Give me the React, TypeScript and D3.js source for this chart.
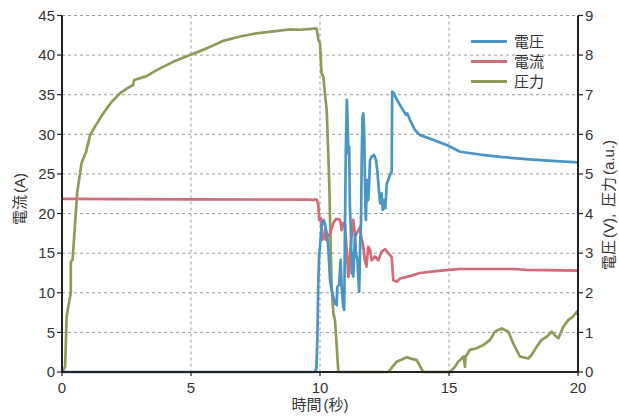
import React from "react";
import * as d3 from "d3";

// ---- data (time in s, current in A on left axis; voltage in V and pressure in a.u. on right axis)
const xTicks = [0, 5, 10, 15, 20];
const leftTicks = [0, 5, 10, 15, 20, 25, 30, 35, 40, 45];
const rightTicks = [0, 1, 2, 3, 4, 5, 6, 7, 8, 9];
const seriesNames = ["電圧", "電流", "圧力"];

const voltage: [number, number][] = [
  [0, 0], [9.81, 0], [9.86, 0.1], [9.9, 0.89], [9.93, 2.15], [9.97, 3.0], [10.0, 3.16], [10.06, 3.67],
  [10.13, 3.84], [10.19, 3.75], [10.26, 3.5], [10.32, 3.16], [10.39, 2.32], [10.45, 2.07], [10.52, 1.9],
  [10.58, 1.73], [10.65, 1.69], [10.67, 2.15], [10.74, 2.2], [10.8, 2.83], [10.84, 2.15], [10.9, 1.65],
  [10.94, 1.57], [10.97, 3.84], [11.0, 5.52], [11.04, 6.87], [11.07, 6.36], [11.1, 5.52], [11.13, 5.69],
  [11.16, 4.17], [11.19, 3.67], [11.23, 2.49], [11.26, 3.0], [11.29, 2.41], [11.36, 3.5], [11.39, 3.0],
  [11.45, 2.83], [11.49, 2.32], [11.52, 2.03], [11.55, 3.0], [11.59, 3.84], [11.62, 5.52], [11.65, 6.45],
  [11.68, 6.53], [11.71, 6.1], [11.73, 5.35], [11.76, 4.17], [11.78, 3.84], [11.81, 4.68], [11.84, 4.85],
  [11.87, 4.34], [11.9, 4.68], [11.94, 5.35], [12.0, 5.44], [12.09, 5.48], [12.17, 5.35], [12.22, 5.1],
  [12.27, 4.68], [12.33, 4.26], [12.39, 4.51], [12.43, 4.09], [12.48, 4.34], [12.53, 4.13], [12.59, 4.76],
  [12.65, 4.85], [12.71, 4.97], [12.78, 5.06], [12.79, 6.36], [12.8, 7.08], [12.87, 7.03], [12.95, 6.91],
  [13.03, 6.82], [13.17, 6.66], [13.26, 6.57], [13.33, 6.49], [13.38, 6.53], [13.49, 6.36], [13.68, 6.11],
  [13.88, 5.98], [14.39, 5.86], [14.91, 5.73], [15.43, 5.56], [16.2, 5.49], [17, 5.43], [18.1, 5.37],
  [19, 5.33], [20, 5.29],
];

const current: [number, number][] = [
  [0, 21.85], [5, 21.8], [9.6, 21.75], [9.75, 21.7], [9.8, 21.8], [9.87, 21.75], [9.93, 21.2], [9.97, 19.2],
  [10.03, 19.4], [10.06, 17.5], [10.1, 16.7], [10.16, 17.0], [10.19, 17.9], [10.23, 16.7], [10.39, 17.5],
  [10.52, 18.8], [10.62, 19.3], [10.71, 19.3], [10.78, 19.2], [10.84, 17.9], [10.9, 18.8], [10.97, 18.6],
  [11.04, 15.0], [11.1, 12.0], [11.16, 14.6], [11.23, 17.5], [11.29, 19.2], [11.36, 17.1], [11.42, 17.5],
  [11.55, 18.3], [11.6, 17.1], [11.67, 16.0], [11.74, 14.1], [11.8, 13.3], [11.87, 15.8], [11.94, 15.4],
  [12.0, 14.1], [12.13, 14.6], [12.26, 14.1], [12.39, 15.2], [12.52, 15.5], [12.65, 15.0], [12.78, 14.5],
  [12.84, 11.6], [12.97, 11.4], [13.1, 11.8], [13.49, 12.1], [13.88, 12.5], [14.39, 12.7], [15.0, 12.9],
  [15.43, 13.0], [16.5, 13.0], [17.5, 13.0], [18.0, 12.9], [20, 12.8],
];

const pressure: [number, number][] = [
  [0, 0], [0.12, 0.13], [0.18, 1.4], [0.24, 1.62], [0.34, 2.0], [0.34, 2.78], [0.41, 2.83], [0.59, 4.54],
  [0.76, 5.28], [0.93, 5.55], [1.09, 5.98], [1.3, 6.22], [1.6, 6.53], [1.9, 6.8], [2.25, 7.04], [2.5, 7.15],
  [2.76, 7.25], [2.8, 7.37], [3.28, 7.47], [3.67, 7.62], [4.31, 7.83], [4.96, 8.0], [5.61, 8.17],
  [6.25, 8.36], [6.9, 8.47], [7.55, 8.55], [8.19, 8.6], [8.84, 8.65], [9.22, 8.64], [9.8, 8.67],
  [9.87, 8.67], [9.94, 8.38], [10.0, 8.3], [10.06, 7.54], [10.13, 7.45], [10.19, 7.04], [10.26, 6.61],
  [10.32, 5.52], [10.36, 4.76], [10.39, 3.84], [10.45, 2.15], [10.52, 1.48], [10.58, 1.31], [10.65, 0.64],
  [10.71, 0], [12.65, 0], [12.97, 0.26], [13.36, 0.37], [13.75, 0.3], [14.0, 0], [15.04, 0], [15.23, 0.13],
  [15.36, 0.26], [15.56, 0.39], [15.62, 0.13], [15.64, 0.4], [15.69, 0.43], [15.81, 0.56], [16.07, 0.6],
  [16.33, 0.68], [16.59, 0.81], [16.78, 1.02], [17.04, 1.1], [17.3, 1.02], [17.49, 0.72], [17.75, 0.39],
  [18.07, 0.34], [18.2, 0.43], [18.4, 0.64], [18.59, 0.81], [18.79, 0.89], [18.98, 1.02], [19.1, 0.93],
  [19.24, 0.85], [19.43, 1.14], [19.62, 1.31], [19.81, 1.4], [19.95, 1.52], [20, 1.45],
];

const COLORS = ["#4b95c5", "#d26b7a", "#8d9b5b"];
const FONT = "'Liberation Sans', 'Noto Sans CJK JP', Arial, sans-serif";
const TEXT = "#333";

function Label({ parts, gaps }: { parts: string[]; gaps: number[] }) {
  return (
    <>
      {parts.map((p, i) => (
        <tspan key={i} dx={gaps[i]}>{p}</tspan>
      ))}
    </>
  );
}

export default function App() {
  const W = 619, H = 417;
  const L = 62, R = 578, T = 15.5, B = 372;
  const x = d3.scaleLinear().domain([0, 20]).range([L, R]);
  const yL = d3.scaleLinear().domain([0, 45]).range([B, T]);
  const yR = d3.scaleLinear().domain([0, 9]).range([B, T]);

  const lineR = d3.line<[number, number]>().x((d) => x(d[0])).y((d) => yR(d[1]));
  const lineL = d3.line<[number, number]>().x((d) => x(d[0])).y((d) => yL(d[1]));

  const legendY = [41.5, 61.5, 81.5];

  return (
    <svg width={W} height={H} style={{ position: "absolute", left: 0, top: 0, background: "#fff" }}>
      <rect x={0} y={0} width={W} height={H} fill="#fff" />
      {/* grid */}
      {leftTicks.filter((t) => t > 0).map((t) => (
        <line key={"gh" + t} x1={L} x2={R} y1={yL(t)} y2={yL(t)} stroke="#9a9a9a" strokeWidth={1} strokeDasharray="3,3" />
      ))}
      {xTicks.filter((t) => t > 0 && t < 20).map((t) => (
        <line key={"gv" + t} x1={x(t)} x2={x(t)} y1={T} y2={B} stroke="#9a9a9a" strokeWidth={1} strokeDasharray="3,3" />
      ))}

      {/* series */}
      <path d={lineR(pressure) || ""} fill="none" stroke={COLORS[2]} strokeWidth={2.7} strokeLinejoin="round" />
      <path d={lineL(current) || ""} fill="none" stroke={COLORS[1]} strokeWidth={2.7} strokeLinejoin="round" />
      <path d={lineR(voltage) || ""} fill="none" stroke={COLORS[0]} strokeWidth={2.7} strokeLinejoin="round" />

      {/* axes */}
      <line x1={L} x2={L} y1={T} y2={B + 1} stroke="#222" strokeWidth={2} />
      <line x1={R} x2={R} y1={T} y2={B + 1} stroke="#222" strokeWidth={2} />
      <line x1={L - 1} x2={R + 1} y1={B} y2={B} stroke="#222" strokeWidth={2} />

      {leftTicks.map((t) => (
        <g key={"lt" + t}>
          <line x1={L - 5} x2={L} y1={yL(t)} y2={yL(t)} stroke="#222" strokeWidth={1.2} />
          <text x={L - 7} y={yL(t)} dy="0.35em" textAnchor="end" fontSize={15} fill={TEXT} fontFamily={FONT}>{t}</text>
        </g>
      ))}
      {rightTicks.map((t) => (
        <g key={"rt" + t}>
          <line x1={R} x2={R + 5} y1={yR(t)} y2={yR(t)} stroke="#222" strokeWidth={1.2} />
          <text x={R + 7} y={yR(t)} dy="0.35em" textAnchor="start" fontSize={15} fill={TEXT} fontFamily={FONT}>{t}</text>
        </g>
      ))}
      {xTicks.map((t) => (
        <g key={"xt" + t}>
          <line x1={x(t)} x2={x(t)} y1={B} y2={B + 4} stroke="#222" strokeWidth={1.2} />
          <text x={x(t)} y={B + 21} textAnchor="middle" fontSize={15} fill={TEXT} fontFamily={FONT}>{t}</text>
        </g>
      ))}

      {/* axis titles */}
      <text x={320} y={410} textAnchor="middle" fontSize={15} fill={TEXT} fontFamily={FONT}>
        <Label parts={["時間", "(秒)"]} gaps={[0, 2]} />
      </text>
      <text transform={`translate(25,${199}) rotate(-90)`} textAnchor="middle" fontSize={15} fill={TEXT} fontFamily={FONT}>
        <Label parts={["電流", "(A)"]} gaps={[0, 2]} />
      </text>
      <text transform={`translate(614,${205}) rotate(-90)`} textAnchor="middle" fontSize={15} fill={TEXT} fontFamily={FONT}>
        <Label parts={["電圧", "(V),", "圧力", "(a.u.)"]} gaps={[0, 2, 7, 2]} />
      </text>

      {/* legend */}
      {seriesNames.map((n, i) => (
        <g key={"lg" + n}>
          <line x1={471} x2={507} y1={legendY[i]} y2={legendY[i]} stroke={COLORS[i]} strokeWidth={3} />
          <text x={514} y={legendY[i]} dy="0.36em" fontSize={15} fill={TEXT} fontFamily={FONT}>{n}</text>
        </g>
      ))}
    </svg>
  );
}
